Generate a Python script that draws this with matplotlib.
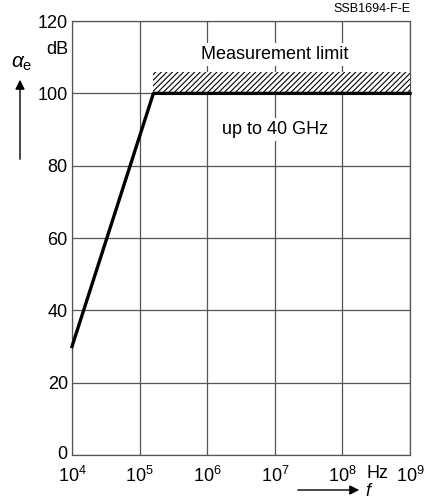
import matplotlib
matplotlib.use('Agg')
import matplotlib.pyplot as plt
import matplotlib.transforms as mtransforms
from matplotlib.patches import Rectangle

plt.rcParams['font.family'] = ['Liberation Sans', 'DejaVu Sans']
plt.rcParams['mathtext.fontset'] = 'custom'
plt.rcParams['mathtext.rm'] = 'Liberation Sans'
plt.rcParams['mathtext.it'] = 'Liberation Sans:italic'
plt.rcParams['hatch.linewidth'] = 0.8

# curve: attenuation vs frequency
freq = [1e4, 1.6e5, 1e9]
atten = [30, 100, 100]

# measurement limit band
limit_lo = 100
limit_hi = 106

yticks = [0, 20, 40, 60, 80, 100, 120]
xticks = [1e4, 1e5, 1e6, 1e7, 1e8, 1e9]
xlabels = ['$\\mathregular{10^4}$', '$\\mathregular{10^5}$', '$\\mathregular{10^6}$',
           '$\\mathregular{10^7}$', '$\\mathregular{10^8}$', '$\\mathregular{10^9}$']

fs = 13

fig = plt.figure(figsize=(4.35, 5.04), dpi=100)
ax = fig.add_axes([0.1655, 0.0972, 0.777, 0.861])
ax.set_xscale('log')
ax.set_xlim(1e4, 1e9)
ax.set_ylim(0, 120)

ax.set_xticks(xticks)
ax.set_xticklabels(xlabels, fontsize=fs)
ax.minorticks_off()
ax.set_yticks(yticks)
ax.set_yticklabels([str(v) for v in yticks], fontsize=fs)
ax.tick_params(axis='y', length=0, pad=3)
ax.tick_params(axis='x', length=0, pad=8)
# lift the "0" a little, as in the original
zero = ax.get_yticklabels()[0]
zero.set_transform(zero.get_transform() +
                   mtransforms.ScaledTranslation(0, 2 / 72, fig.dpi_scale_trans))
ax.grid(True, color='#555555', linewidth=0.9)
for s in ax.spines.values():
    s.set_color('#555555')
    s.set_linewidth(0.9)

ax.add_patch(Rectangle((freq[1], limit_lo), freq[2] - freq[1], limit_hi - limit_lo,
                       facecolor='white', edgecolor='black', linewidth=0,
                       hatch='//////', zorder=3))
ax.plot(freq, atten, color='black', linewidth=2.4, zorder=4, clip_on=False)

box = dict(facecolor='white', edgecolor='none', pad=2)
ax.text(1e7, 110.7, 'Measurement limit', ha='center', va='center', fontsize=fs,
        bbox=box, zorder=3)
ax.text(1e7, 90, 'up to 40 GHz', ha='center', va='center', fontsize=fs,
        bbox=box, zorder=3)

# unit labels
fig.text(0.1655 - 0.008, 1 - 50 / 504, 'dB', ha='right', va='center', fontsize=fs)
fig.text(0.9425, 1 - 9 / 504, 'SSB1694-F-E', ha='right', va='center', fontsize=9)
ax.annotate('Hz', xy=(10 ** 8.52, 0), xycoords='data', xytext=(0, -13),
            textcoords='offset points', ha='center', va='center', fontsize=fs,
            annotation_clip=False)

# axis symbols with arrows
fig.text(22 / 435, 1 - 64 / 504, r'$\alpha_\mathrm{e}$', ha='center', va='center',
         fontsize=15)
ax.annotate('', xy=(20 / 435, 1 - 77 / 504), xytext=(20 / 435, 1 - 162 / 504),
            xycoords='figure fraction', textcoords='figure fraction',
            annotation_clip=False,
            arrowprops=dict(arrowstyle='-|>', color='black', lw=1,
                            mutation_scale=14))
ax.annotate('', xy=(362 / 435, 1 - 490 / 504), xytext=(295 / 435, 1 - 490 / 504),
            xycoords='figure fraction', textcoords='figure fraction',
            annotation_clip=False,
            arrowprops=dict(arrowstyle='-|>', color='black', lw=1,
                            mutation_scale=14))
fig.text(368 / 435, 1 - 491 / 504, 'f', ha='center', va='center', fontsize=13,
         style='italic')

fig.savefig('out.png', dpi=100)
